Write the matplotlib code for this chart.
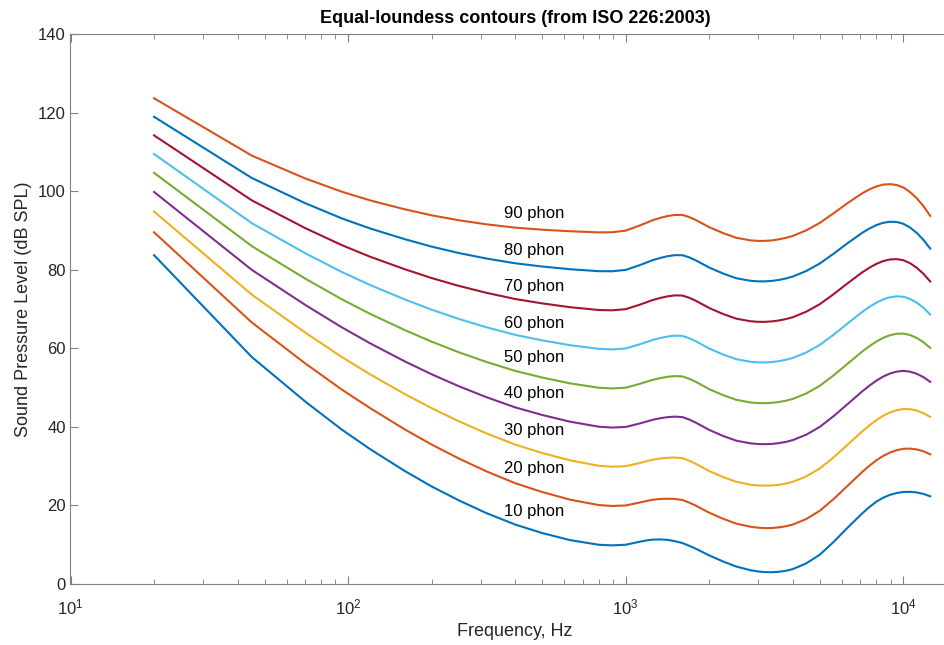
import matplotlib
matplotlib.use("Agg")
import matplotlib.pyplot as plt
from matplotlib.ticker import FixedLocator, LogLocator, NullFormatter

plt.rcParams['font.family'] = ['Liberation Sans', 'DejaVu Sans']
plt.rcParams['mathtext.fontset'] = 'custom'
plt.rcParams['mathtext.rm'] = 'Liberation Sans'
plt.rcParams['mathtext.it'] = 'Liberation Sans:italic'
plt.rcParams['mathtext.bf'] = 'Liberation Sans:bold'

# frequencies (Hz) and sound pressure levels (dB SPL)
freq = [20, 45, 70, 95, 120, 160, 200, 250, 315, 400,
        500, 630, 800, 895, 1000, 1120, 1185, 1250, 1330, 1410,
        1500, 1600, 1690, 1790, 2000, 2240, 2500, 2810, 2980, 3150,
        3350, 3550, 3770, 4000, 4470, 5000, 5610, 6300, 7100, 7540,
        8000, 8460, 8940, 9460, 10000, 10570, 11180, 11820, 12500]

phon10 = [83.75, 57.8, 46.5, 39.3, 34.35, 28.78, 24.84, 21.33, 18.05, 15.14,
          12.98, 11.18, 9.99, 9.84, 10.0, 10.75, 11.08, 11.3, 11.36, 11.25,
          10.93, 10.43, 9.76, 8.97, 7.27, 5.75, 4.45, 3.52, 3.22, 3.04,
          3.00, 3.10, 3.36, 3.80, 5.25, 7.46, 10.72, 14.35, 17.94, 19.58,
          20.98, 21.98, 22.69, 23.17, 23.43, 23.48, 23.32, 22.94, 22.33]
phon20 = [89.58, 66.6, 56.2, 49.5, 44.8, 39.37, 35.51, 31.99, 28.69, 25.67,
          23.43, 21.48, 20.10, 19.87, 20.0, 20.73, 21.12, 21.46, 21.66, 21.72,
          21.67, 21.40, 20.76, 19.94, 18.15, 16.63, 15.38, 14.59, 14.36, 14.25,
          14.26, 14.41, 14.70, 15.14, 16.55, 18.64, 21.64, 25.02, 28.49, 30.10,
          31.52, 32.62, 33.47, 34.08, 34.43, 34.49, 34.27, 33.79, 33.04]
phon30 = [94.85, 73.7, 64.05, 57.8, 53.4, 48.38, 44.78, 41.47, 38.36, 35.50,
          33.37, 31.49, 30.11, 29.87, 30.0, 30.79, 31.24, 31.65, 31.96, 32.15,
          32.22, 32.04, 31.43, 30.60, 28.76, 27.25, 26.03, 25.30, 25.11, 25.04,
          25.09, 25.26, 25.57, 26.02, 27.40, 29.42, 32.27, 35.48, 38.82, 40.37,
          41.75, 42.84, 43.68, 44.27, 44.57, 44.53, 44.17, 43.51, 42.55]
phon40 = [99.85, 80.0, 71.1, 65.35, 61.3, 56.70, 53.41, 50.40, 47.58, 44.98,
          43.05, 41.34, 40.06, 39.84, 40.0, 40.86, 41.35, 41.82, 42.21, 42.48,
          42.63, 42.51, 41.91, 41.08, 39.23, 37.72, 36.51, 35.83, 35.66, 35.61,
          35.67, 35.86, 36.18, 36.65, 38.03, 40.01, 42.76, 45.83, 49.02, 50.50,
          51.80, 52.83, 53.59, 54.09, 54.28, 54.08, 53.54, 52.68, 51.49]
phon50 = [104.72, 86.05, 77.8, 72.5, 68.8, 64.68, 61.72, 59.04, 56.55, 54.27,
          52.59, 51.10, 49.98, 49.80, 50.0, 50.94, 51.48, 51.99, 52.43, 52.76,
          52.95, 52.87, 52.29, 51.47, 49.62, 48.12, 46.91, 46.24, 46.09, 46.05,
          46.13, 46.34, 46.68, 47.15, 48.53, 50.48, 53.15, 56.11, 59.16, 60.55,
          61.76, 62.69, 63.35, 63.73, 63.78, 63.41, 62.66, 61.57, 60.13]
phon60 = [109.51, 91.9, 84.25, 79.45, 76.15, 72.48, 69.86, 67.53, 65.39, 63.45,
          62.05, 60.82, 59.89, 59.75, 60.0, 61.02, 61.60, 62.15, 62.64, 63.01,
          63.24, 63.19, 62.61, 61.81, 59.96, 58.46, 57.26, 56.60, 56.45, 56.42,
          56.52, 56.74, 57.09, 57.57, 58.96, 60.89, 63.50, 66.36, 69.26, 70.56,
          71.66, 72.48, 73.02, 73.27, 73.16, 72.60, 71.65, 70.33, 68.63]
phon70 = [114.26, 97.7, 90.65, 86.3, 83.35, 80.17, 77.92, 75.94, 74.16, 72.58,
          71.47, 70.50, 69.78, 69.70, 70.0, 71.10, 71.72, 72.32, 72.84, 73.24,
          73.50, 73.47, 72.92, 72.12, 70.28, 68.78, 67.58, 66.93, 66.78, 66.76,
          66.87, 67.10, 67.46, 67.95, 69.35, 71.26, 73.82, 76.59, 79.34, 80.54,
          81.54, 82.24, 82.65, 82.74, 82.46, 81.71, 80.54, 78.99, 77.04]
phon80 = [118.99, 103.4, 97.0, 93.1, 90.55, 87.82, 85.92, 84.31, 82.89, 81.68,
          80.86, 80.17, 79.67, 79.65, 80.0, 81.18, 81.84, 82.48, 83.03, 83.46,
          83.74, 83.74, 83.21, 82.41, 80.59, 79.09, 77.88, 77.23, 77.09, 77.07,
          77.19, 77.43, 77.80, 78.31, 79.72, 81.62, 84.13, 86.81, 89.41, 90.52,
          91.41, 91.99, 92.26, 92.20, 91.74, 90.79, 89.41, 87.62, 85.41]
phon90 = [123.71, 109.1, 103.3, 99.9, 97.7, 95.43, 93.89, 92.65, 91.60, 90.76,
          90.24, 89.84, 89.55, 89.59, 90.0, 91.27, 91.97, 92.65, 93.24, 93.69,
          93.99, 94.00, 93.48, 92.69, 90.88, 89.38, 88.18, 87.53, 87.39, 87.38,
          87.50, 87.76, 88.15, 88.66, 90.07, 91.96, 94.43, 97.02, 99.47, 100.48,
          101.26, 101.72, 101.84, 101.62, 100.99, 99.84, 98.24, 96.21, 93.75]

curves = [phon10, phon20, phon30, phon40, phon50, phon60, phon70, phon80, phon90]
labels = ['10 phon', '20 phon', '30 phon', '40 phon', '50 phon',
          '60 phon', '70 phon', '80 phon', '90 phon']
label_y = [18.4, 29.4, 39.0, 48.4, 57.6, 66.4, 75.7, 85.0, 94.4]

colors = ['#0072BD', '#D95319', '#EDB120', '#7E2F8E', '#77AC30',
          '#4DBEEE', '#A2142F', '#0072BD', '#D95319']

fig = plt.figure(figsize=(9.45, 6.45), dpi=100)
ax = fig.add_axes([70.5 / 945, 1 - 584 / 645, 889.5 / 945, 549.7 / 645])

for spl, c in zip(curves, colors):
    ax.plot(freq, spl, color=c, lw=1.5)

for lab, yy in zip(labels, label_y):
    ax.text(365, yy, lab, fontsize=12, ha='left', va='center', color='#000000')

ax.set_xscale('log')
ax.set_xlim(10, 16000)
ax.set_ylim(0, 140)
ax.yaxis.set_major_locator(FixedLocator(range(0, 141, 20)))
ax.xaxis.set_major_locator(LogLocator(base=10, numticks=10))
ax.xaxis.set_minor_locator(LogLocator(base=10, subs=range(2, 10), numticks=20))
ax.xaxis.set_minor_formatter(NullFormatter())

gray = '#808080'
for s in ax.spines.values():
    s.set_color(gray)
    s.set_linewidth(0.8)
ax.spines['right'].set_visible(False)
ax.tick_params(which='both', direction='in', top=True, right=False, color=gray,
               labelcolor='#262626', labelsize=12)
ax.tick_params(which='major', length=6)
ax.tick_params(which='minor', length=3.5)
ax.tick_params(axis='x', which='major', pad=10)

ax.set_title('Equal-loundess contours (from ISO 226:2003)', fontsize=13,
             fontweight='bold', pad=8)
ax.set_xlabel('Frequency, Hz', fontsize=13, color='#262626', labelpad=4)
ax.set_ylabel('Sound Pressure Level (dB SPL)', fontsize=13, color='#262626')

fig.savefig('out.png', dpi=100)
